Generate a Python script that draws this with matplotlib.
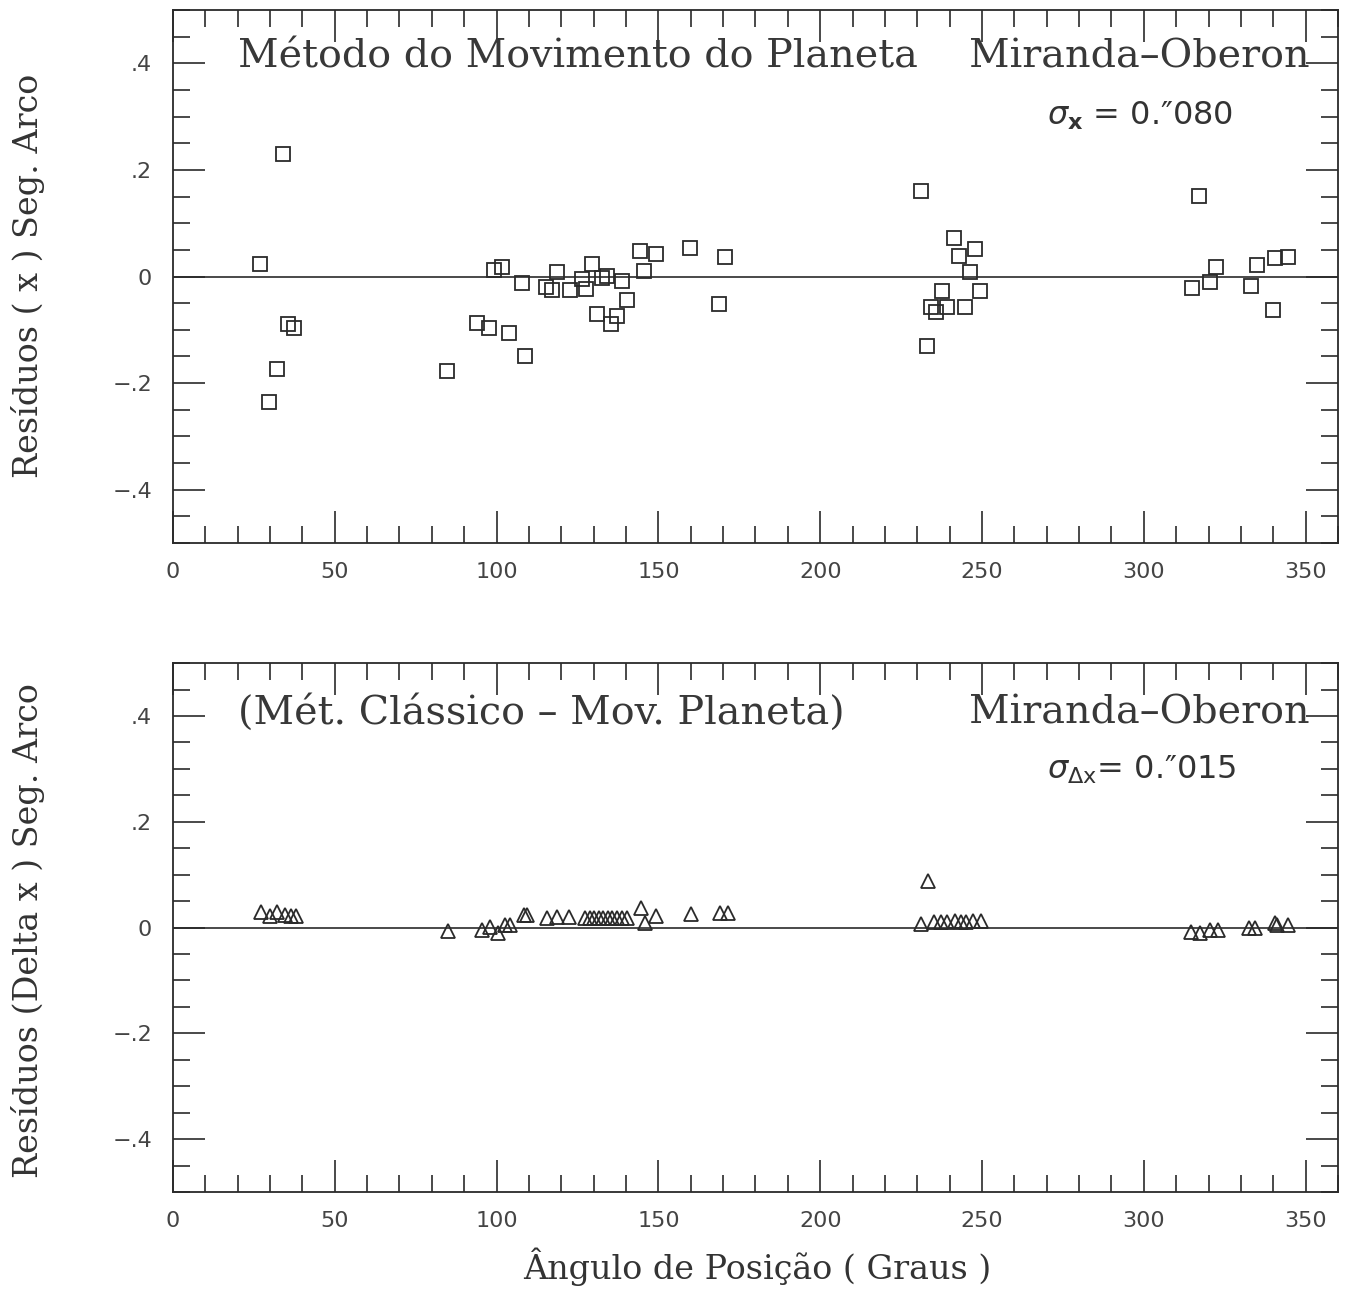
import matplotlib
matplotlib.use("Agg")
import matplotlib.pyplot as plt
from matplotlib.ticker import MultipleLocator, FixedLocator, FixedFormatter

# ---- data: top panel (Método do Movimento do Planeta) ----
ang_top = [27.0, 34.0, 29.7, 32.0, 35.5, 37.5, 84.6, 94.0, 97.6, 99.1, 101.7,
           103.7, 107.7, 108.9, 115.3, 117.1, 118.7, 122.7, 126.5, 127.5, 129.6,
           131.1, 132.6, 134.2, 135.5, 137.3, 138.9, 140.2, 144.2, 145.7, 149.4,
           159.9, 168.8, 170.7, 231.0, 233.1, 234.3, 235.8, 237.6, 239.2, 241.3,
           242.9, 244.6, 246.2, 247.7, 249.3, 314.9, 316.9, 320.3, 322.4, 333.1,
           335.0, 339.9, 340.6, 344.5]
res_top = [0.024, 0.230, -0.235, -0.173, -0.090, -0.096, -0.178, -0.088, -0.097,
           0.013, 0.018, -0.106, -0.012, -0.150, -0.019, -0.026, 0.009, -0.026,
           -0.005, -0.023, 0.024, -0.070, -0.003, 0.001, -0.089, -0.075, -0.008,
           -0.045, 0.048, 0.011, 0.042, 0.054, -0.052, 0.036, 0.161, -0.130,
           -0.057, -0.067, -0.028, -0.057, 0.073, 0.038, -0.057, 0.008, 0.052,
           -0.028, -0.022, 0.152, -0.010, 0.018, -0.017, 0.022, -0.063, 0.034,
           0.036]

# ---- data: bottom panel (Mét. Clássico - Mov. Planeta) ----
ang_bot = [27.3, 29.9, 32.3, 34.5, 36.6, 37.9, 85.1, 95.4, 98.0, 100.4, 102.6,
           104.0, 108.6, 109.3, 115.5, 118.6, 122.5, 127.4, 128.8, 130.2, 131.6,
           133.0, 134.4, 135.8, 137.2, 138.6, 140.2, 144.5, 146.0, 149.4, 160.2,
           168.9, 171.4, 231.0, 233.3, 235.3, 237.4, 239.3, 241.6, 243.6, 245.2,
           247.3, 249.7, 314.6, 317.4, 320.5, 322.8, 332.4, 334.5, 340.6, 341.1,
           344.4]
res_bot = [0.030, 0.022, 0.030, 0.023, 0.022, 0.022, -0.007, -0.005, 0.001,
           -0.010, 0.004, 0.004, 0.023, 0.023, 0.018, 0.020, 0.019, 0.018, 0.018,
           0.018, 0.018, 0.018, 0.018, 0.018, 0.018, 0.018, 0.018, 0.037, 0.008,
           0.022, 0.025, 0.028, 0.028, 0.006, 0.088, 0.010, 0.010, 0.010, 0.012,
           0.011, 0.011, 0.013, 0.013, -0.008, -0.010, -0.004, -0.004, 0.000,
           0.000, 0.009, 0.004, 0.004]

xticks = [0, 50, 100, 150, 200, 250, 300, 350]
xticklabels = ["0", "50", "100", "150", "200", "250", "300", "350"]
yticks = [-0.4, -0.2, 0.0, 0.2, 0.4]
yticklabels = ["\u2212.4", "\u2212.2", "0", ".2", ".4"]

INK = "#2a2a2a"
SERIF = "DejaVu Serif"
SANS = "DejaVu Sans"

fig = plt.figure(figsize=(13.48, 12.90), dpi=100)
ax1 = fig.add_axes([0.1283, 0.5791, 0.8643, 0.4131])
ax2 = fig.add_axes([0.1283, 0.0760, 0.8643, 0.4100])


def style(ax):
    ax.set_xlim(0, 360)
    ax.set_ylim(-0.5, 0.5)
    ax.xaxis.set_major_locator(FixedLocator(xticks))
    ax.xaxis.set_major_formatter(FixedFormatter(xticklabels))
    ax.xaxis.set_minor_locator(MultipleLocator(10))
    ax.yaxis.set_major_locator(FixedLocator(yticks))
    ax.yaxis.set_major_formatter(FixedFormatter(yticklabels))
    ax.yaxis.set_minor_locator(MultipleLocator(0.05))
    ax.tick_params(which="both", direction="in", top=True, right=True,
                   color=INK, width=1.2)
    ax.tick_params(which="major", length=23)
    ax.tick_params(which="minor", length=12)
    ax.tick_params(axis="x", which="major", pad=14, labelsize=16,
                   labelcolor="#444444")
    ax.tick_params(axis="y", which="major", pad=15, labelsize=16,
                   labelcolor="#444444")
    for lab in ax.get_xticklabels() + ax.get_yticklabels():
        lab.set_fontfamily(SANS)
    for sp in ax.spines.values():
        sp.set_color(INK)
        sp.set_linewidth(1.3)
    ax.axhline(0, color=INK, lw=1.2, zorder=1)


style(ax1)
style(ax2)

ax1.plot(ang_top, res_top, linestyle="none", marker="s", markersize=9.5,
         markerfacecolor="none", markeredgecolor=INK, markeredgewidth=1.3,
         zorder=3)
ax2.plot(ang_bot, res_bot, linestyle="none", marker="^", markersize=10,
         markerfacecolor="none", markeredgecolor=INK, markeredgewidth=1.3,
         zorder=3)

tkw = dict(fontfamily=SERIF, fontsize=28.5, color="#383838", va="center")
ax1.text(0.056, 0.912, "Método do Movimento do Planeta", transform=ax1.transAxes,
         ha="left", **tkw)
ax1.text(0.976, 0.912, "Miranda\u2013Oberon", transform=ax1.transAxes,
         ha="right", **tkw)
ax2.text(0.056, 0.905, "(Mét. Clássico \u2013 Mov. Planeta)",
         transform=ax2.transAxes, ha="left", **tkw)
ax2.text(0.976, 0.905, "Miranda\u2013Oberon", transform=ax2.transAxes,
         ha="right", **tkw)

skw = dict(fontfamily=SANS, fontsize=23, color="#333333", va="center",
           ha="left")
ax1.text(0.750, 0.801, r"$\sigma_{\mathbf{x}}$ = 0." + "\u2033" + "080",
         transform=ax1.transAxes, **skw)
ax2.text(0.750, 0.798, r"$\sigma_{\Delta\mathrm{x}}$= 0." + "\u2033" + "015",
         transform=ax2.transAxes, **skw)

lkw = dict(fontfamily=SERIF, fontsize=24, color="#333333")
fig.text(0.021, 0.786, "Resíduos ( x ) Seg. Arco", rotation=90,
         ha="center", va="center", **lkw)
fig.text(0.021, 0.279, "Resíduos (Delta x ) Seg. Arco", rotation=90,
         ha="center", va="center", **lkw)
fig.text(0.5616, 0.0178, "Ângulo de Posição ( Graus )", ha="center",
         va="center", **lkw)

fig.savefig("out.png", dpi=100, facecolor="white")
